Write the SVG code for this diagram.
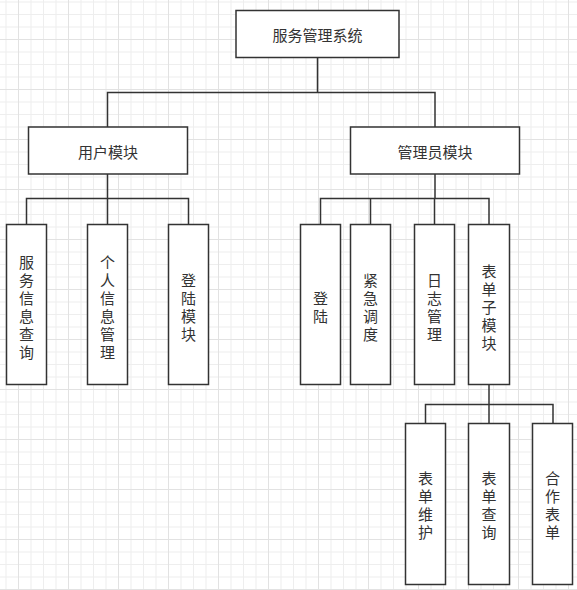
<svg xmlns="http://www.w3.org/2000/svg" width="577" height="590" viewBox="0 0 577 590">
  <defs>
    <pattern id="grid" patternUnits="userSpaceOnUse" x="18" y="39" width="50" height="50">
      <rect x="0" y="0" width="50" height="50" fill="#ffffff"/>
      <rect x="12.5" y="0" width="1" height="50" fill="#eeeeee"/>
      <rect x="25" y="0" width="1" height="50" fill="#eeeeee"/>
      <rect x="37.5" y="0" width="1" height="50" fill="#eeeeee"/>
      <rect x="0" y="12.5" width="50" height="1" fill="#eeeeee"/>
      <rect x="0" y="25" width="50" height="1" fill="#eeeeee"/>
      <rect x="0" y="37.5" width="50" height="1" fill="#eeeeee"/>
      <rect x="0" y="0" width="1" height="50" fill="#e2e2e2"/>
      <rect x="0" y="0" width="50" height="1" fill="#e2e2e2"/>
    </pattern>
  </defs>
  <style>
    .box { fill: #ffffff; stroke: #333333; stroke-width: 1.5; }
    .lbl { font-family: "Noto Sans CJK SC", "Noto Sans", sans-serif; font-size: 15px; fill: #333333; text-anchor: middle; dominant-baseline: central; }
    .con { fill: none; stroke: #333333; stroke-width: 1.5; }
  </style>
  <rect x="0" y="0" width="577" height="590" fill="url(#grid)"/>

  <g id="connectors">
    <path class="con" d="M317.5 57.5 V92.5 M107.5 127 V92.5 H435 V127"/>
    <path class="con" d="M107.5 174 V198.5 M26.5 224.5 V198.5 H188.5 V224.5 M107.5 198.5 V224.5"/>
    <path class="con" d="M435 174 V198.5 M320.5 224.5 V198.5 H489 V224.5 M370.5 198.5 V224.5 M434.5 198.5 V224.5"/>
    <path class="con" d="M489 384.5 V404.5 M425.5 423.5 V404.5 H553 V423.5 M489 404.5 V423.5"/>
  </g>

  <g id="root">
    <rect class="box" x="236" y="10.5" width="163" height="47"/>
    <text class="lbl" x="317.5" y="34.5">服务管理系统</text>
  </g>
  <g id="user">
    <rect class="box" x="28.5" y="127" width="159" height="47"/>
    <text class="lbl" x="108" y="151">用户模块</text>
  </g>
  <g id="admin">
    <rect class="box" x="350.5" y="127" width="169" height="47"/>
    <text class="lbl" x="435" y="151">管理员模块</text>
  </g>

  <g id="svc-query">
    <rect class="box" x="6.5" y="224.5" width="40" height="160"/>
    <text class="lbl" x="26.5"><tspan x="26.5" y="260.5">服</tspan><tspan x="26.5" y="278.5">务</tspan><tspan x="26.5" y="296.5">信</tspan><tspan x="26.5" y="314.5">息</tspan><tspan x="26.5" y="332.5">查</tspan><tspan x="26.5" y="350.5">询</tspan></text>
  </g>
  <g id="personal">
    <rect class="box" x="87.5" y="224.5" width="40" height="160"/>
    <text class="lbl" x="107.5"><tspan x="107.5" y="260.5">个</tspan><tspan x="107.5" y="278.5">人</tspan><tspan x="107.5" y="296.5">信</tspan><tspan x="107.5" y="314.5">息</tspan><tspan x="107.5" y="332.5">管</tspan><tspan x="107.5" y="350.5">理</tspan></text>
  </g>
  <g id="login-module">
    <rect class="box" x="168.5" y="224.5" width="40" height="160"/>
    <text class="lbl" x="188.5"><tspan x="188.5" y="278.5">登</tspan><tspan x="188.5" y="296.5">陆</tspan><tspan x="188.5" y="314.5">模</tspan><tspan x="188.5" y="332.5">块</tspan></text>
  </g>

  <g id="login">
    <rect class="box" x="300.5" y="224.5" width="40" height="160"/>
    <text class="lbl" x="320.5"><tspan x="320.5" y="296.5">登</tspan><tspan x="320.5" y="314.5">陆</tspan></text>
  </g>
  <g id="dispatch">
    <rect class="box" x="350.5" y="224.5" width="40" height="160"/>
    <text class="lbl" x="370.5"><tspan x="370.5" y="278.5">紧</tspan><tspan x="370.5" y="296.5">急</tspan><tspan x="370.5" y="314.5">调</tspan><tspan x="370.5" y="332.5">度</tspan></text>
  </g>
  <g id="log">
    <rect class="box" x="414.5" y="224.5" width="40" height="160"/>
    <text class="lbl" x="434.5"><tspan x="434.5" y="278.5">日</tspan><tspan x="434.5" y="296.5">志</tspan><tspan x="434.5" y="314.5">管</tspan><tspan x="434.5" y="332.5">理</tspan></text>
  </g>
  <g id="form-sub">
    <rect class="box" x="468.5" y="224.5" width="41" height="160"/>
    <text class="lbl" x="489"><tspan x="489" y="269.5">表</tspan><tspan x="489" y="287.5">单</tspan><tspan x="489" y="305.5">子</tspan><tspan x="489" y="323.5">模</tspan><tspan x="489" y="341.5">块</tspan></text>
  </g>

  <g id="form-maint">
    <rect class="box" x="405.5" y="423.5" width="40" height="161"/>
    <text class="lbl" x="425.5"><tspan x="425.5" y="477">表</tspan><tspan x="425.5" y="495">单</tspan><tspan x="425.5" y="513">维</tspan><tspan x="425.5" y="531">护</tspan></text>
  </g>
  <g id="form-query">
    <rect class="box" x="468.5" y="423.5" width="41" height="161"/>
    <text class="lbl" x="489"><tspan x="489" y="477">表</tspan><tspan x="489" y="495">单</tspan><tspan x="489" y="513">查</tspan><tspan x="489" y="531">询</tspan></text>
  </g>
  <g id="coop-form">
    <rect class="box" x="532.5" y="423.5" width="40" height="161"/>
    <text class="lbl" x="552.5"><tspan x="552.5" y="477">合</tspan><tspan x="552.5" y="495">作</tspan><tspan x="552.5" y="513">表</tspan><tspan x="552.5" y="531">单</tspan></text>
  </g>
</svg>
